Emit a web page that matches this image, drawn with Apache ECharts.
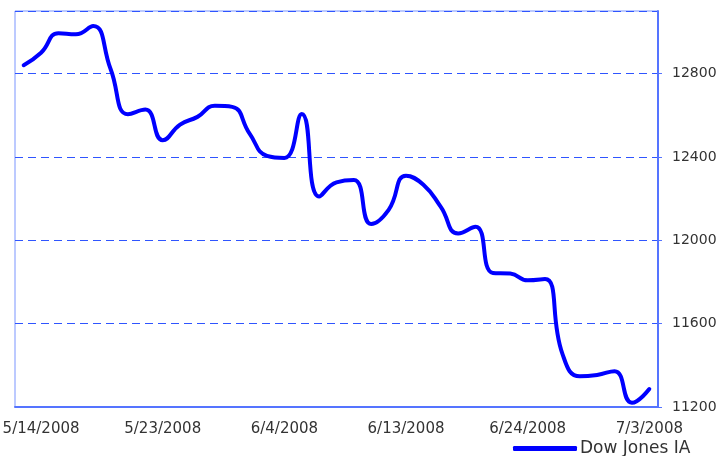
<!DOCTYPE html>
<html>
<head>
<meta charset="utf-8">
<script src="https://cdn.jsdelivr.net/npm/echarts@6/dist/echarts.min.js"></script>
<style>
  html, body { margin: 0; padding: 0; background: #fff; }
  #main { width: 719px; height: 456px; }
</style>
</head>
<body>
<div id="main"></div>
<script>
// trading days, 5/13/2008 .. 7/3/2008
var days = [
  '5/13/2008', '5/14/2008', '5/15/2008', '5/16/2008', '5/19/2008', '5/20/2008', '5/21/2008',
  '5/22/2008', '5/23/2008', '5/27/2008', '5/28/2008', '5/29/2008', '5/30/2008', '6/2/2008',
  '6/3/2008', '6/4/2008', '6/5/2008', '6/6/2008', '6/9/2008', '6/10/2008', '6/11/2008',
  '6/12/2008', '6/13/2008', '6/16/2008', '6/17/2008', '6/18/2008', '6/19/2008', '6/20/2008',
  '6/23/2008', '6/24/2008', '6/25/2008', '6/26/2008', '6/27/2008', '6/30/2008', '7/1/2008',
  '7/2/2008', '7/3/2008'
];
// closing values
var dowJones = [
  12840, 12900, 12993, 12988, 13028, 12822, 12605,
  12627, 12480, 12555, 12592, 12645, 12640, 12512,
  12405, 12395, 12606, 12210, 12278, 12289, 12078,
  12146, 12310, 12266, 12160, 12032, 12065, 11843,
  11840, 11808, 11814, 11455, 11347, 11354, 11372,
  11220, 11286
];
var yTicks = { min: 11200, max: 13100, step: 400 };

var myChart = echarts.init(document.getElementById('main'));
var font = 'DejaVu Sans';

var option = {
  animation: false,
  backgroundColor: '#fff',
  grid: {
    left: 15,
    right: 61,
    top: 11,
    bottom: 49,
    outerBoundsMode: 'none',
    containLabel: false,
    show: true,
    borderColor: '#7b95ff',
    borderWidth: 1
  },
  legend: {
    data: [{ name: 'Dow Jones IA', icon: 'roundRect' }],
    left: 513,
    top: 440,
    padding: 0,
    itemWidth: 64,
    itemHeight: 5,
    itemGap: 0,
    textStyle: { fontFamily: font, fontSize: 17, color: '#333', padding: [0, 0, 0, -2] }
  },
  xAxis: {
    type: 'category',
    data: days,
    boundaryGap: true,
    axisLine: { lineStyle: { color: '#5574ff', width: 2 } },
    axisTick: {
      length: 4,
      lineStyle: { color: '#5574ff', width: 1 },
      interval: function (i) { return (i - 2) % 7 === 0; }
    },
    axisLabel: {
      interval: function (i) { return (i - 1) % 7 === 0; },
      fontFamily: font,
      fontSize: 15,
      color: '#333',
      margin: 15
    },
    splitLine: { show: false }
  },
  yAxis: {
    type: 'value',
    position: 'right',
    min: yTicks.min,
    max: yTicks.max,
    interval: yTicks.step,
    axisLine: { show: true, lineStyle: { color: '#5574ff', width: 2 } },
    axisTick: { show: true, length: 4, lineStyle: { color: '#5574ff' } },
    axisLabel: {
      fontFamily: font,
      fontSize: 14,
      color: '#333',
      margin: 14,
      showMaxLabel: false,
      formatter: function (v) { return String(v); }
    },
    splitLine: {
      show: true,
      lineStyle: { color: '#2f55ff', type: [8, 5], width: 1 }
    }
  },
  series: [
    {
      name: 'Dow Jones IA',
      type: 'line',
      data: dowJones,
      smooth: 0.5,
      showSymbol: false,
      color: '#0000ff',
      lineStyle: { color: '#0000ff', width: 4, cap: 'round', join: 'round' }
    }
  ]
};

myChart.setOption(option);
window.addEventListener('resize', function () {
  myChart.resize();
});
</script>
</body>
</html>
